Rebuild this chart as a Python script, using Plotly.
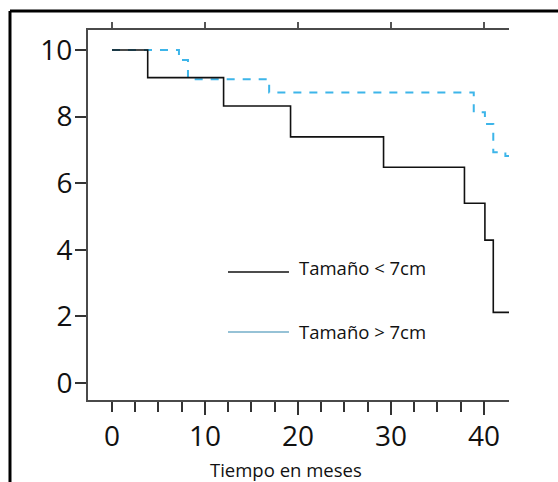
import plotly.graph_objects as go

# ---- data ----
t_small = [0, 3.84, 12.0, 19.2, 29.2, 37.9, 40.1, 41.0, 42.7]
s_small = [10, 9.17, 8.32, 7.39, 6.48, 5.40, 4.29, 2.12, 2.12]

t_large = [0, 7.2, 8.17, 16.9, 38.9, 40.1, 41.0, 42.3, 42.7]
s_large = [10, 9.70, 9.12, 8.72, 8.13, 7.78, 6.93, 6.82, 6.82]

x_major = [0, 10, 20, 30, 40]
x_long = [10, 20, 30, 40]
x_minor = [2.5, 5, 7.5, 12.5, 15, 17.5, 22.5, 25, 27.5, 32.5, 35, 37.5]
y_ticks = [0, 2, 4, 6, 8, 10]

legend_labels = ["Tamaño < 7cm", "Tamaño > 7cm"]
x_title = "Tiempo en meses"

FONT = "Open Sans"
AX = "#4a4a4a"
BLUE = "#3db5e9"
XR = [-2.58, 42.69]
YR = [-0.51, 10.6]

fig = go.Figure()
fig.add_trace(go.Scatter(x=t_large, y=s_large, mode="lines", line_shape="hv",
                         line=dict(color=BLUE, width=2, dash="8px,8px"),
                         showlegend=False, hoverinfo="skip"))
fig.add_trace(go.Scatter(x=t_small, y=s_small, mode="lines", line_shape="hv",
                         line=dict(color="#111111", width=1.6),
                         showlegend=False, hoverinfo="skip"))
# dummy traces to activate overlay axes
fig.add_trace(go.Scatter(x=[0], y=[0], xaxis="x2", mode="markers",
                         marker=dict(opacity=0), showlegend=False, hoverinfo="skip"))
fig.add_trace(go.Scatter(x=[0], y=[0], xaxis="x3", mode="markers",
                         marker=dict(opacity=0), showlegend=False, hoverinfo="skip"))

fig.update_layout(
    width=558, height=482,
    margin=dict(l=88, r=49, t=30, b=82),
    paper_bgcolor="white", plot_bgcolor="white",
    font=dict(family=FONT, color="#111111"),
    xaxis=dict(range=XR, showgrid=False, zeroline=False, showline=True,
               linecolor=AX, linewidth=2, ticks="outside", tickvals=x_major,
               ticklen=10, tickwidth=1.5, tickcolor="#333333",
               tickfont=dict(size=28, family=FONT, color="#111111"),
               minor=dict(tickmode="array", tickvals=x_minor, ticks="outside",
                          ticklen=10, tickwidth=1.5, tickcolor="#333333", showgrid=False)),
    xaxis2=dict(range=XR, overlaying="x", side="top", anchor="y", showgrid=False,
                zeroline=False, showline=True, linecolor=AX, linewidth=2,
                ticks="outside", tickvals=x_major, ticklen=6, tickwidth=1.5,
                tickcolor="#555555", showticklabels=False),
    xaxis3=dict(range=XR, overlaying="x", side="bottom", anchor="y", showgrid=False,
                zeroline=False, showline=False, ticks="outside", tickvals=x_long,
                ticklen=14, tickwidth=1.5, tickcolor="#333333", showticklabels=False),
    yaxis=dict(range=YR, showgrid=False, zeroline=False, showline=True,
               linecolor=AX, linewidth=2, ticks="outside", tickvals=y_ticks,
               ticklen=11, tickwidth=1.5, tickcolor="#333333", ticklabelstandoff=-3,
               tickfont=dict(size=28, family=FONT, color="#111111")),
)

# outer frame (top and left edges)
fig.add_shape(type="line", xref="paper", yref="paper", x0=-0.1853, x1=-0.1853,
              y0=-0.25, y1=1.0514, line=dict(color="black", width=3))
fig.add_shape(type="line", xref="paper", yref="paper", x0=-0.1853, x1=1.12,
              y0=1.0514, y1=1.0514, line=dict(color="black", width=3))

# manual legend
fig.add_shape(type="line", xref="paper", yref="paper", x0=0.3325, x1=0.4774,
              y0=0.346, y1=0.346, line=dict(color="#111111", width=1.5))
fig.add_shape(type="line", xref="paper", yref="paper", x0=0.3325, x1=0.4774,
              y0=0.1838, y1=0.1838, line=dict(color="#2f86ad", width=1.2))
fig.add_annotation(xref="paper", yref="paper", x=0.4964, y=0.3568, text=legend_labels[0],
                   showarrow=False, xanchor="left", yanchor="middle",
                   font=dict(size=18.5, family=FONT, color="#111111"))
fig.add_annotation(xref="paper", yref="paper", x=0.4964, y=0.1838, text=legend_labels[1],
                   showarrow=False, xanchor="left", yanchor="middle",
                   font=dict(size=18.5, family=FONT, color="#111111"))

# x-axis title
fig.add_annotation(xref="paper", yref="paper", x=0.4703, y=-0.1865, text=x_title,
                   showarrow=False, xanchor="center", yanchor="middle",
                   font=dict(size=18.5, family=FONT, color="#111111"))

fig.write_html("out.html", config={"displayModeBar": False},
               post_script="document.body.style.margin='0px';")
